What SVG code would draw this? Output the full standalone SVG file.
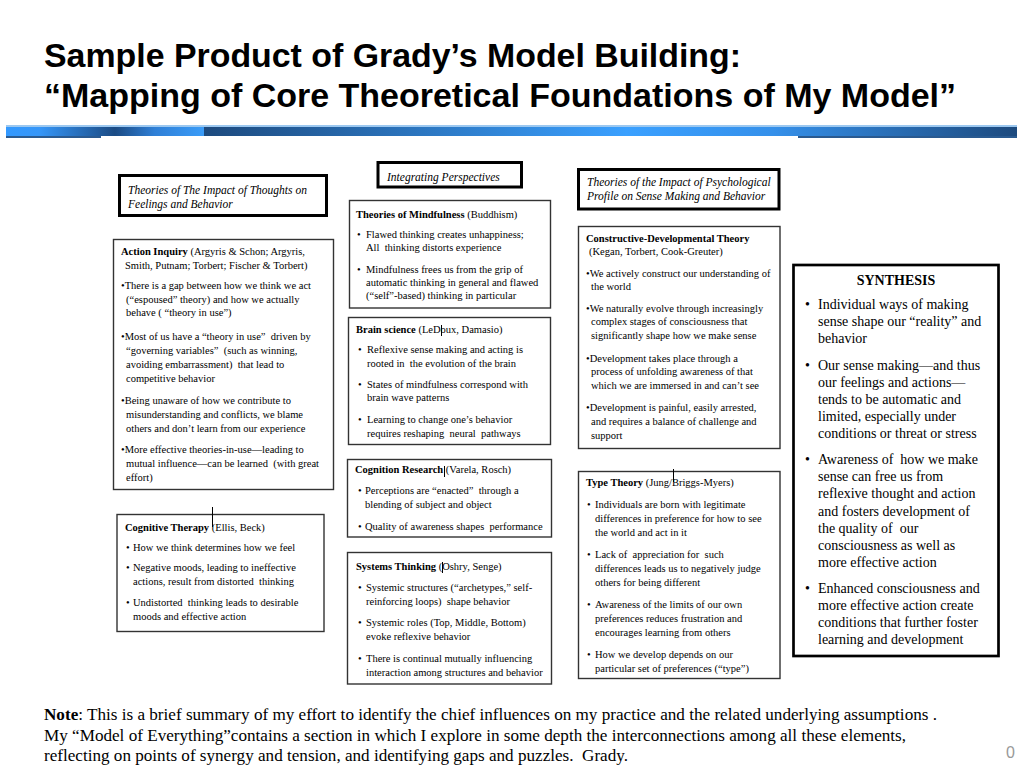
<svg xmlns="http://www.w3.org/2000/svg" width="1024" height="768" viewBox="0 0 1024 768" xml:space="preserve">
<defs>
<linearGradient id="gLeft" x1="0" y1="0" x2="1" y2="0"><stop offset="0" stop-color="#3399ff"/><stop offset="0.17" stop-color="#3596f8"/><stop offset="0.55" stop-color="#1b4b84"/><stop offset="0.75" stop-color="#2f7fd6"/><stop offset="1" stop-color="#3a9cf8"/></linearGradient>
<linearGradient id="gMain" x1="0" y1="0" x2="1" y2="0"><stop offset="0" stop-color="#1d4a7e"/><stop offset="0.52" stop-color="#3aa0ff"/><stop offset="0.7" stop-color="#3590ea"/><stop offset="1" stop-color="#1d4a7e"/></linearGradient>
<style>
text{white-space:pre}
.hdr{fill:#fff;stroke:#000;stroke-width:3}
.box{fill:#fff;stroke:#333;stroke-width:1.4}
.syn{fill:#fff;stroke:#000;stroke-width:2.7}
.t{font-family:"Liberation Serif","Times New Roman",serif;font-size:10.5px;fill:#000}
.h{font-family:"Liberation Serif","Times New Roman",serif;font-size:11.5px;font-style:italic;fill:#000}
.s{font-family:"Liberation Serif","Times New Roman",serif;font-size:14px;fill:#000}
.n{font-family:"Liberation Serif","Times New Roman",serif;font-size:16.5px;fill:#000}
.ttl{font-family:"Liberation Sans",Arial,sans-serif;font-size:34px;font-weight:bold;fill:#000}
.b{font-weight:bold}
.cur{stroke:#000;stroke-width:1}
</style>
</defs>
<rect width="1024" height="768" fill="#fff"/>
<g id="title">
<text class="ttl" x="44" y="67" textLength="697" lengthAdjust="spacingAndGlyphs">Sample Product of Grady’s Model Building:</text>
<text class="ttl" x="44" y="107" textLength="912" lengthAdjust="spacingAndGlyphs">“Mapping of Core Theoretical Foundations of My Model”</text>
</g>
<g id="title-bar">
<rect x="6" y="125" width="1011" height="2" fill="#9cc8f0"/>
<rect x="6" y="127" width="198" height="9" fill="url(#gLeft)"/>
<rect x="204" y="127" width="813" height="9" fill="url(#gMain)"/>
<rect x="6" y="136" width="95" height="2" fill="#2a5a90"/>
<rect x="798" y="136" width="219" height="2" fill="#2a5a90"/>
</g>
<g id="connectors"></g>
<g id="header-thoughts">
<rect class="hdr" x="119.5" y="175.5" width="207" height="40"/>
<text class="h" x="128" y="194">Theories of The Impact of Thoughts on</text>
<text class="h" x="128" y="208">Feelings and Behavior</text>
</g>
<g id="action-inquiry">
<rect class="box" x="113.5" y="239.5" width="220" height="250"/>
<text class="t" x="121" y="255"><tspan class="b">Action Inquiry</tspan> (Argyris &amp; Schon; Argyris,</text>
<text class="t" x="125" y="269">Smith, Putnam; Torbert; Fischer &amp; Torbert)</text>
<text class="t" x="121" y="289">•There is a gap between how we think we act</text>
<text class="t" x="126" y="303">(“espoused” theory) and how we actually</text>
<text class="t" x="126" y="316">behave ( “theory in use”)</text>
<text class="t" x="121" y="340">•Most of us have a “theory in use”  driven by</text>
<text class="t" x="126" y="354">“governing variables”  (such as winning,</text>
<text class="t" x="126" y="368">avoiding embarrassment)  that lead to</text>
<text class="t" x="126" y="382">competitive behavior</text>
<text class="t" x="121" y="404">•Being unaware of how we contribute to</text>
<text class="t" x="126" y="418">misunderstanding and conflicts, we blame</text>
<text class="t" x="126" y="432">others and don’t learn from our experience</text>
<text class="t" x="121" y="453">•More effective theories-in-use—leading to</text>
<text class="t" x="126" y="467">mutual influence—can be learned  (with great</text>
<text class="t" x="126" y="481">effort)</text>
</g>
<g id="cognitive-therapy">
<rect class="box" x="117" y="514.5" width="207" height="117"/>
<text class="t" x="125" y="531"><tspan class="b">Cognitive Therapy</tspan> (Ellis, Beck)</text>
<text class="t" x="126" y="551">•</text><text class="t" x="133" y="551">How we think determines how we feel</text>
<text class="t" x="126" y="571">•</text><text class="t" x="133" y="571">Negative moods, leading to ineffective</text>
<text class="t" x="133" y="585">actions, result from distorted  thinking</text>
<text class="t" x="126" y="606">•</text><text class="t" x="133" y="606">Undistorted  thinking leads to desirable</text>
<text class="t" x="133" y="620">moods and effective action</text>
</g>
<g id="integrating">
<rect class="hdr" x="378" y="162.5" width="143.5" height="24.5"/>
<text class="h" x="387" y="181">Integrating Perspectives</text>
</g>
<g id="mindfulness">
<rect class="box" x="349.5" y="200.5" width="201" height="107.5"/>
<text class="t" x="356" y="217.5"><tspan class="b">Theories of Mindfulness</tspan> (Buddhism)</text>
<text class="t" x="357" y="237.5">•</text><text class="t" x="366" y="237.5">Flawed thinking creates unhappiness;</text>
<text class="t" x="366" y="251">All  thinking distorts experience</text>
<text class="t" x="357" y="272.5">•</text><text class="t" x="366" y="272.5">Mindfulness frees us from the grip of</text>
<text class="t" x="366" y="285.5">automatic thinking in general and flawed</text>
<text class="t" x="366" y="299">(“self”-based) thinking in particular</text>
</g>
<g id="brain-science">
<rect class="box" x="348.5" y="317.5" width="202" height="127"/>
<text class="t" x="356" y="332.5"><tspan class="b">Brain science</tspan> (LeDoux, Damasio)</text>
<text class="t" x="358" y="353">•</text><text class="t" x="367" y="353">Reflexive sense making and acting is</text>
<text class="t" x="367" y="366.5">rooted in  the evolution of the brain</text>
<text class="t" x="358" y="388">•</text><text class="t" x="367" y="388">States of mindfulness correspond with</text>
<text class="t" x="367" y="401">brain wave patterns</text>
<text class="t" x="358" y="423">•</text><text class="t" x="367" y="423">Learning to change one’s behavior</text>
<text class="t" x="367" y="436.5">requires reshaping  neural  pathways</text>
</g>
<g id="cognition-research">
<rect class="box" x="347.5" y="459.5" width="204" height="77.5"/>
<text class="t" x="355" y="473"><tspan class="b">Cognition Research</tspan> (Varela, Rosch)</text>
<text class="t" x="358" y="494">•</text><text class="t" x="365" y="494">Perceptions are “enacted”  through a</text>
<text class="t" x="365" y="508">blending of subject and object</text>
<text class="t" x="358" y="530">•</text><text class="t" x="365" y="530">Quality of awareness shapes  performance</text>
</g>
<g id="systems-thinking">
<rect class="box" x="347.5" y="552.5" width="204" height="131.5"/>
<text class="t" x="356" y="570"><tspan class="b">Systems Thinking</tspan> (Oshry, Senge)</text>
<text class="t" x="358" y="591">•</text><text class="t" x="366" y="591">Systemic structures (“archetypes,” self-</text>
<text class="t" x="366" y="604.5">reinforcing loops)  shape behavior</text>
<text class="t" x="358" y="626">•</text><text class="t" x="366" y="626">Systemic roles (Top, Middle, Bottom)</text>
<text class="t" x="366" y="640">evoke reflexive behavior</text>
<text class="t" x="358" y="662">•</text><text class="t" x="366" y="662">There is continual mutually influencing</text>
<text class="t" x="366" y="676">interaction among structures and behavior</text>
</g>
<g id="header-psychological">
<rect class="hdr" x="578.5" y="169.5" width="200.5" height="39.5"/>
<text class="h" x="587" y="186">Theories of the Impact of Psychological</text>
<text class="h" x="587" y="199.5">Profile on Sense Making and Behavior</text>
</g>
<g id="constructive-developmental">
<rect class="box" x="578.5" y="226.5" width="201.5" height="222"/>
<text class="t b" x="586" y="242">Constructive-Developmental Theory</text>
<text class="t" x="589" y="255">(Kegan, Torbert, Cook-Greuter)</text>
<text class="t" x="586" y="277">•We actively construct our understanding of</text>
<text class="t" x="591" y="290">the world</text>
<text class="t" x="586" y="312">•We naturally evolve through increasingly</text>
<text class="t" x="591" y="325">complex stages of consciousness that</text>
<text class="t" x="591" y="339">significantly shape how we make sense</text>
<text class="t" x="586" y="362">•Development takes place through a</text>
<text class="t" x="591" y="375">process of unfolding awareness of that</text>
<text class="t" x="591" y="389">which we are immersed in and can’t see</text>
<text class="t" x="586" y="411">•Development is painful, easily arrested,</text>
<text class="t" x="591" y="425">and requires a balance of challenge and</text>
<text class="t" x="591" y="439">support</text>
</g>
<g id="type-theory">
<rect class="box" x="578.5" y="471.5" width="201.5" height="207"/>
<text class="t" x="586" y="486"><tspan class="b">Type Theory</tspan> (Jung/Briggs-Myers)</text>
<text class="t" x="587" y="508">•</text><text class="t" x="595" y="508">Individuals are born with legitimate</text>
<text class="t" x="595" y="522">differences in preference for how to see</text>
<text class="t" x="595" y="536">the world and act in it</text>
<text class="t" x="587" y="558">•</text><text class="t" x="595" y="558">Lack of  appreciation for  such</text>
<text class="t" x="595" y="572">differences leads us to negatively judge</text>
<text class="t" x="595" y="586">others for being different</text>
<text class="t" x="587" y="608">•</text><text class="t" x="595" y="608">Awareness of the limits of our own</text>
<text class="t" x="595" y="622">preferences reduces frustration and</text>
<text class="t" x="595" y="636">encourages learning from others</text>
<text class="t" x="587" y="658">•</text><text class="t" x="595" y="658">How we develop depends on our</text>
<text class="t" x="595" y="672">particular set of preferences (“type”)</text>
</g>
<g id="synthesis">
<rect class="syn" x="793.5" y="265" width="205" height="391"/>
<text class="s b" x="896" y="285" text-anchor="middle">SYNTHESIS</text>
<text class="s" x="805" y="309">•</text><text class="s" x="818" y="309">Individual ways of making</text>
<text class="s" x="818" y="326">sense shape our “reality” and</text>
<text class="s" x="818" y="343">behavior</text>
<text class="s" x="805" y="370">•</text><text class="s" x="818" y="370">Our sense making—and thus</text>
<text class="s" x="818" y="387">our feelings and actions—</text>
<text class="s" x="818" y="404">tends to be automatic and</text>
<text class="s" x="818" y="421">limited, especially under</text>
<text class="s" x="818" y="438">conditions or threat or stress</text>
<text class="s" x="805" y="464">•</text><text class="s" x="818" y="464">Awareness of  how we make</text>
<text class="s" x="818" y="481">sense can free us from</text>
<text class="s" x="818" y="498">reflexive thought and action</text>
<text class="s" x="818" y="516">and fosters development of</text>
<text class="s" x="818" y="533">the quality of  our</text>
<text class="s" x="818" y="550">consciousness as well as</text>
<text class="s" x="818" y="567">more effective action</text>
<text class="s" x="805" y="593">•</text><text class="s" x="818" y="593">Enhanced consciousness and</text>
<text class="s" x="818" y="610">more effective action create</text>
<text class="s" x="818" y="627">conditions that further foster</text>
<text class="s" x="818" y="644">learning and development</text>
</g>
<g id="marks">
<line class="cur" x1="212.5" y1="507" x2="212.5" y2="527"/>
<line class="cur" x1="441.5" y1="325" x2="441.5" y2="336"/>
<line class="cur" x1="444.5" y1="466" x2="444.5" y2="477"/>
<line class="cur" x1="442.5" y1="562" x2="442.5" y2="573"/>
<line class="cur" x1="673.5" y1="469" x2="673.5" y2="482"/>
</g>
<g id="note">
<text class="n" x="44" y="720" textLength="893" lengthAdjust="spacingAndGlyphs"><tspan class="b">Note</tspan>: This is a brief summary of my effort to identify the chief influences on my practice and the related underlying assumptions .</text>
<text class="n" x="44" y="741" textLength="862" lengthAdjust="spacingAndGlyphs">My “Model of Everything”contains a section in which I explore in some depth the interconnections among all these elements,</text>
<text class="n" x="44" y="761" textLength="584" lengthAdjust="spacingAndGlyphs">reflecting on points of synergy and tension, and identifying gaps and puzzles.  Grady.</text>
</g>
<text id="page-number" x="1006" y="758" font-family="Liberation Sans, Arial, sans-serif" font-size="16" fill="#999">0</text>
</svg>
